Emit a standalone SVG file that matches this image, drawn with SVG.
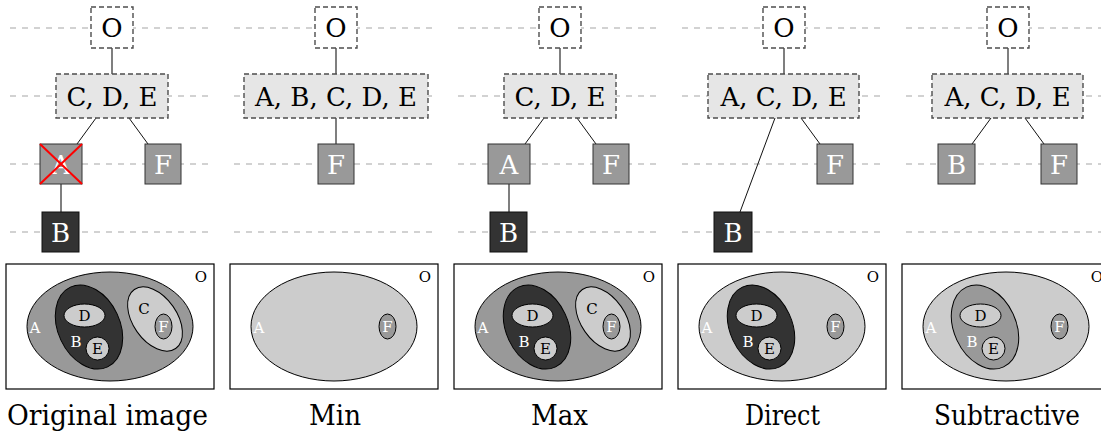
<svg xmlns="http://www.w3.org/2000/svg" width="1101" height="437" viewBox="0 0 1101 437">
<style>
.guide{stroke:#a6a6a6;stroke-width:1.2;stroke-dasharray:6 6;fill:none}
.set{fill:#ffffff;stroke:#4d4d4d;stroke-width:1.4;stroke-dasharray:5 3}
.setg{fill:#e6e6e6;stroke:#4d4d4d;stroke-width:1.4;stroke-dasharray:5 3}
.gray{fill:#999999;stroke:#333333;stroke-width:1}
.dark{fill:#333333;stroke:#111111;stroke-width:1}
.lbl{font-family:"DejaVu Serif","Liberation Serif",serif;font-size:26px;text-anchor:middle;fill:#000}
.lblw{font-family:"DejaVu Serif","Liberation Serif",serif;font-size:26px;text-anchor:middle;fill:#fff}
.vert{stroke:#555555;stroke-width:1.5;fill:none}
.diag{stroke:#111111;stroke-width:1;fill:none}
.frame{fill:#ffffff;stroke:#000;stroke-width:1.2}
.ev{stroke:#000;stroke-width:1}
.lt{fill:#cccccc}
.md{fill:#999999}
.dk{fill:#333333}
.vl{font-family:"DejaVu Serif","Liberation Serif",serif;font-size:15px;text-anchor:middle;fill:#000}
.vlw{font-family:"DejaVu Serif","Liberation Serif",serif;font-size:15px;text-anchor:middle;fill:#fff}
.cap{font-family:"DejaVu Serif","Liberation Serif",serif;font-size:27px;text-anchor:middle;fill:#000}
</style>
<rect x="0" y="0" width="1101" height="437" fill="#ffffff"/>
<g id="guides">
<path class="guide" d="M10 28H210M10 96H210M10 164H210M10 232H210"/>
<path class="guide" d="M234 28H434M234 96H434M234 164H434M234 232H434"/>
<path class="guide" d="M458 28H658M458 96H658M458 164H658M458 232H658"/>
<path class="guide" d="M682 28H882M682 96H882M682 164H882M682 232H882"/>
<path class="guide" d="M906 28H1106M906 96H1106M906 164H1106M906 232H1106"/>
</g>
<g id="connectors">
<line class="vert" x1="112" y1="48" x2="112" y2="74"/>
<line class="diag" x1="96" y1="118" x2="77" y2="144"/>
<line class="diag" x1="129" y1="118" x2="148" y2="144"/>
<line class="vert" x1="61" y1="184" x2="61" y2="212"/>
<line class="vert" x1="336" y1="48" x2="336" y2="74"/>
<line class="vert" x1="336" y1="118" x2="336" y2="144"/>
<line class="vert" x1="560" y1="48" x2="560" y2="74"/>
<line class="diag" x1="544" y1="118" x2="525" y2="144"/>
<line class="diag" x1="577" y1="118" x2="596" y2="144"/>
<line class="vert" x1="509" y1="184" x2="509" y2="212"/>
<line class="vert" x1="784" y1="48" x2="784" y2="74"/>
<line class="diag" x1="775" y1="118" x2="740" y2="212"/>
<line class="diag" x1="801" y1="118" x2="820" y2="144"/>
<line class="vert" x1="1008" y1="48" x2="1008" y2="74"/>
<line class="diag" x1="991" y1="118" x2="972" y2="144"/>
<line class="diag" x1="1025" y1="118" x2="1044" y2="144"/>
</g>
<!-- Panel 1 -->
<g id="p1-O"><rect class="set" x="91" y="7" width="42" height="41"/><text class="lbl" x="112" y="37">O</text></g>
<g id="p1-CDE"><rect class="setg" x="56" y="74" width="112" height="44"/><text class="lbl" x="112" y="105.5">C, D, E</text></g>
<g id="p1-A"><rect class="gray" x="40" y="144" width="42" height="40"/><text class="lblw" x="61" y="173.5">A</text>
<path d="M40 144L82 184M82 144L40 184" stroke="#ff0000" stroke-width="2" fill="none"/></g>
<g id="p1-F"><rect class="gray" x="145" y="144" width="36" height="40"/><text class="lblw" x="163" y="173.5">F</text></g>
<g id="p1-B"><rect class="dark" x="42" y="212" width="37" height="40"/><text class="lblw" x="60.5" y="241.5">B</text></g>
<!-- Panel 2 -->
<g id="p2-O"><rect class="set" x="315" y="7" width="42" height="41"/><text class="lbl" x="336" y="37">O</text></g>
<g id="p2-ABCDE"><rect class="setg" x="244" y="74" width="184" height="44"/><text class="lbl" x="336" y="105.5">A, B, C, D, E</text></g>
<g id="p2-F"><rect class="gray" x="318" y="144" width="36" height="40"/><text class="lblw" x="336" y="173.5">F</text></g>
<!-- Panel 3 -->
<g id="p3-O"><rect class="set" x="539" y="7" width="42" height="41"/><text class="lbl" x="560" y="37">O</text></g>
<g id="p3-CDE"><rect class="setg" x="504" y="74" width="112" height="44"/><text class="lbl" x="560" y="105.5">C, D, E</text></g>
<g id="p3-A"><rect class="gray" x="488" y="144" width="42" height="40"/><text class="lblw" x="509" y="173.5">A</text></g>
<g id="p3-F"><rect class="gray" x="593" y="144" width="36" height="40"/><text class="lblw" x="611" y="173.5">F</text></g>
<g id="p3-B"><rect class="dark" x="490" y="212" width="37" height="40"/><text class="lblw" x="508.5" y="241.5">B</text></g>
<!-- Panel 4 -->
<g id="p4-O"><rect class="set" x="763" y="7" width="42" height="41"/><text class="lbl" x="784" y="37">O</text></g>
<g id="p4-ACDE"><rect class="setg" x="708" y="74" width="151" height="44"/><text class="lbl" x="783.5" y="105.5">A, C, D, E</text></g>
<g id="p4-F"><rect class="gray" x="817" y="144" width="36" height="40"/><text class="lblw" x="835" y="173.5">F</text></g>
<g id="p4-B"><rect class="dark" x="714" y="212" width="38" height="40"/><text class="lblw" x="733" y="241.5">B</text></g>
<!-- Panel 5 -->
<g id="p5-O"><rect class="set" x="987" y="7" width="42" height="41"/><text class="lbl" x="1008" y="37">O</text></g>
<g id="p5-ACDE"><rect class="setg" x="932" y="74" width="151" height="44"/><text class="lbl" x="1007.5" y="105.5">A, C, D, E</text></g>
<g id="p5-B"><rect class="gray" x="938" y="144" width="37" height="40"/><text class="lblw" x="956.5" y="173.5">B</text></g>
<g id="p5-F"><rect class="gray" x="1041" y="144" width="36" height="40"/><text class="lblw" x="1059" y="173.5">F</text></g>
<!-- Venn panels -->
<g id="venn1">
<rect class="frame" x="6" y="264" width="208" height="125"/>
<text class="vl" x="201" y="282">O</text>
<ellipse class="ev md" cx="110" cy="326.5" rx="83" ry="54.5"/>
<ellipse class="ev dk" rx="31" ry="44" transform="translate(89,327) rotate(-25)"/>
<ellipse class="ev lt" cx="84.5" cy="315.5" rx="20.5" ry="11.5"/>
<circle class="ev lt" cx="97.5" cy="348.5" r="11.5"/>
<ellipse class="ev lt" rx="22" ry="36" transform="translate(155,319) rotate(-35)"/>
<ellipse class="ev md" cx="163.5" cy="326.5" rx="8.5" ry="12.5"/>
<text class="vlw" x="35" y="333">A</text>
<text class="vlw" x="76" y="347">B</text>
<text class="vl" x="84.5" y="320.5">D</text>
<text class="vl" x="97.5" y="353.5">E</text>
<text class="vl" x="144" y="313.5">C</text>
<text class="vlw" x="163.5" y="332">F</text>
</g>
<g id="venn2" transform="translate(224,0)">
<rect class="frame" x="6" y="264" width="208" height="125"/>
<text class="vl" x="201" y="282">O</text>
<ellipse class="ev lt" cx="110" cy="326.5" rx="83" ry="54.5"/>
<ellipse class="ev md" cx="163.5" cy="326.5" rx="8.5" ry="12.5"/>
<text class="vlw" x="35" y="333">A</text>
<text class="vlw" x="163.5" y="332">F</text>
</g>
<g id="venn3" transform="translate(448,0)">
<rect class="frame" x="6" y="264" width="208" height="125"/>
<text class="vl" x="201" y="282">O</text>
<ellipse class="ev md" cx="110" cy="326.5" rx="83" ry="54.5"/>
<ellipse class="ev dk" rx="31" ry="44" transform="translate(89,327) rotate(-25)"/>
<ellipse class="ev lt" cx="84.5" cy="315.5" rx="20.5" ry="11.5"/>
<circle class="ev lt" cx="97.5" cy="348.5" r="11.5"/>
<ellipse class="ev lt" rx="22" ry="36" transform="translate(155,319) rotate(-35)"/>
<ellipse class="ev md" cx="163.5" cy="326.5" rx="8.5" ry="12.5"/>
<text class="vlw" x="35" y="333">A</text>
<text class="vlw" x="76" y="347">B</text>
<text class="vl" x="84.5" y="320.5">D</text>
<text class="vl" x="97.5" y="353.5">E</text>
<text class="vl" x="144" y="313.5">C</text>
<text class="vlw" x="163.5" y="332">F</text>
</g>
<g id="venn4" transform="translate(672,0)">
<rect class="frame" x="6" y="264" width="208" height="125"/>
<text class="vl" x="201" y="282">O</text>
<ellipse class="ev lt" cx="110" cy="326.5" rx="83" ry="54.5"/>
<ellipse class="ev dk" rx="31" ry="44" transform="translate(89,327) rotate(-25)"/>
<ellipse class="ev lt" cx="84.5" cy="315.5" rx="20.5" ry="11.5"/>
<circle class="ev lt" cx="97.5" cy="348.5" r="11.5"/>
<ellipse class="ev md" cx="163.5" cy="326.5" rx="8.5" ry="12.5"/>
<text class="vlw" x="35" y="333">A</text>
<text class="vlw" x="76" y="347">B</text>
<text class="vl" x="84.5" y="320.5">D</text>
<text class="vl" x="97.5" y="353.5">E</text>
<text class="vlw" x="163.5" y="332">F</text>
</g>
<g id="venn5" transform="translate(896,0)">
<rect class="frame" x="6" y="264" width="208" height="125"/>
<text class="vl" x="201" y="282">O</text>
<ellipse class="ev lt" cx="110" cy="326.5" rx="83" ry="54.5"/>
<ellipse class="ev md" rx="31" ry="44" transform="translate(89,327) rotate(-25)"/>
<ellipse class="ev lt" cx="84.5" cy="315.5" rx="20.5" ry="11.5"/>
<circle class="ev lt" cx="97.5" cy="348.5" r="11.5"/>
<ellipse class="ev md" cx="163.5" cy="326.5" rx="8.5" ry="12.5"/>
<text class="vlw" x="35" y="333">A</text>
<text class="vlw" x="76" y="347">B</text>
<text class="vl" x="84.5" y="320.5">D</text>
<text class="vl" x="97.5" y="353.5">E</text>
<text class="vlw" x="163.5" y="332">F</text>
</g>
<g id="captions">
<text class="cap" x="107.5" y="425" textLength="201" lengthAdjust="spacingAndGlyphs">Original image</text>
<text class="cap" x="335" y="425" textLength="52" lengthAdjust="spacingAndGlyphs">Min</text>
<text class="cap" x="559.5" y="425" textLength="57" lengthAdjust="spacingAndGlyphs">Max</text>
<text class="cap" x="782.5" y="425" textLength="75" lengthAdjust="spacingAndGlyphs">Direct</text>
<text class="cap" x="1007" y="425" textLength="146" lengthAdjust="spacingAndGlyphs">Subtractive</text>
</g>
</svg>
